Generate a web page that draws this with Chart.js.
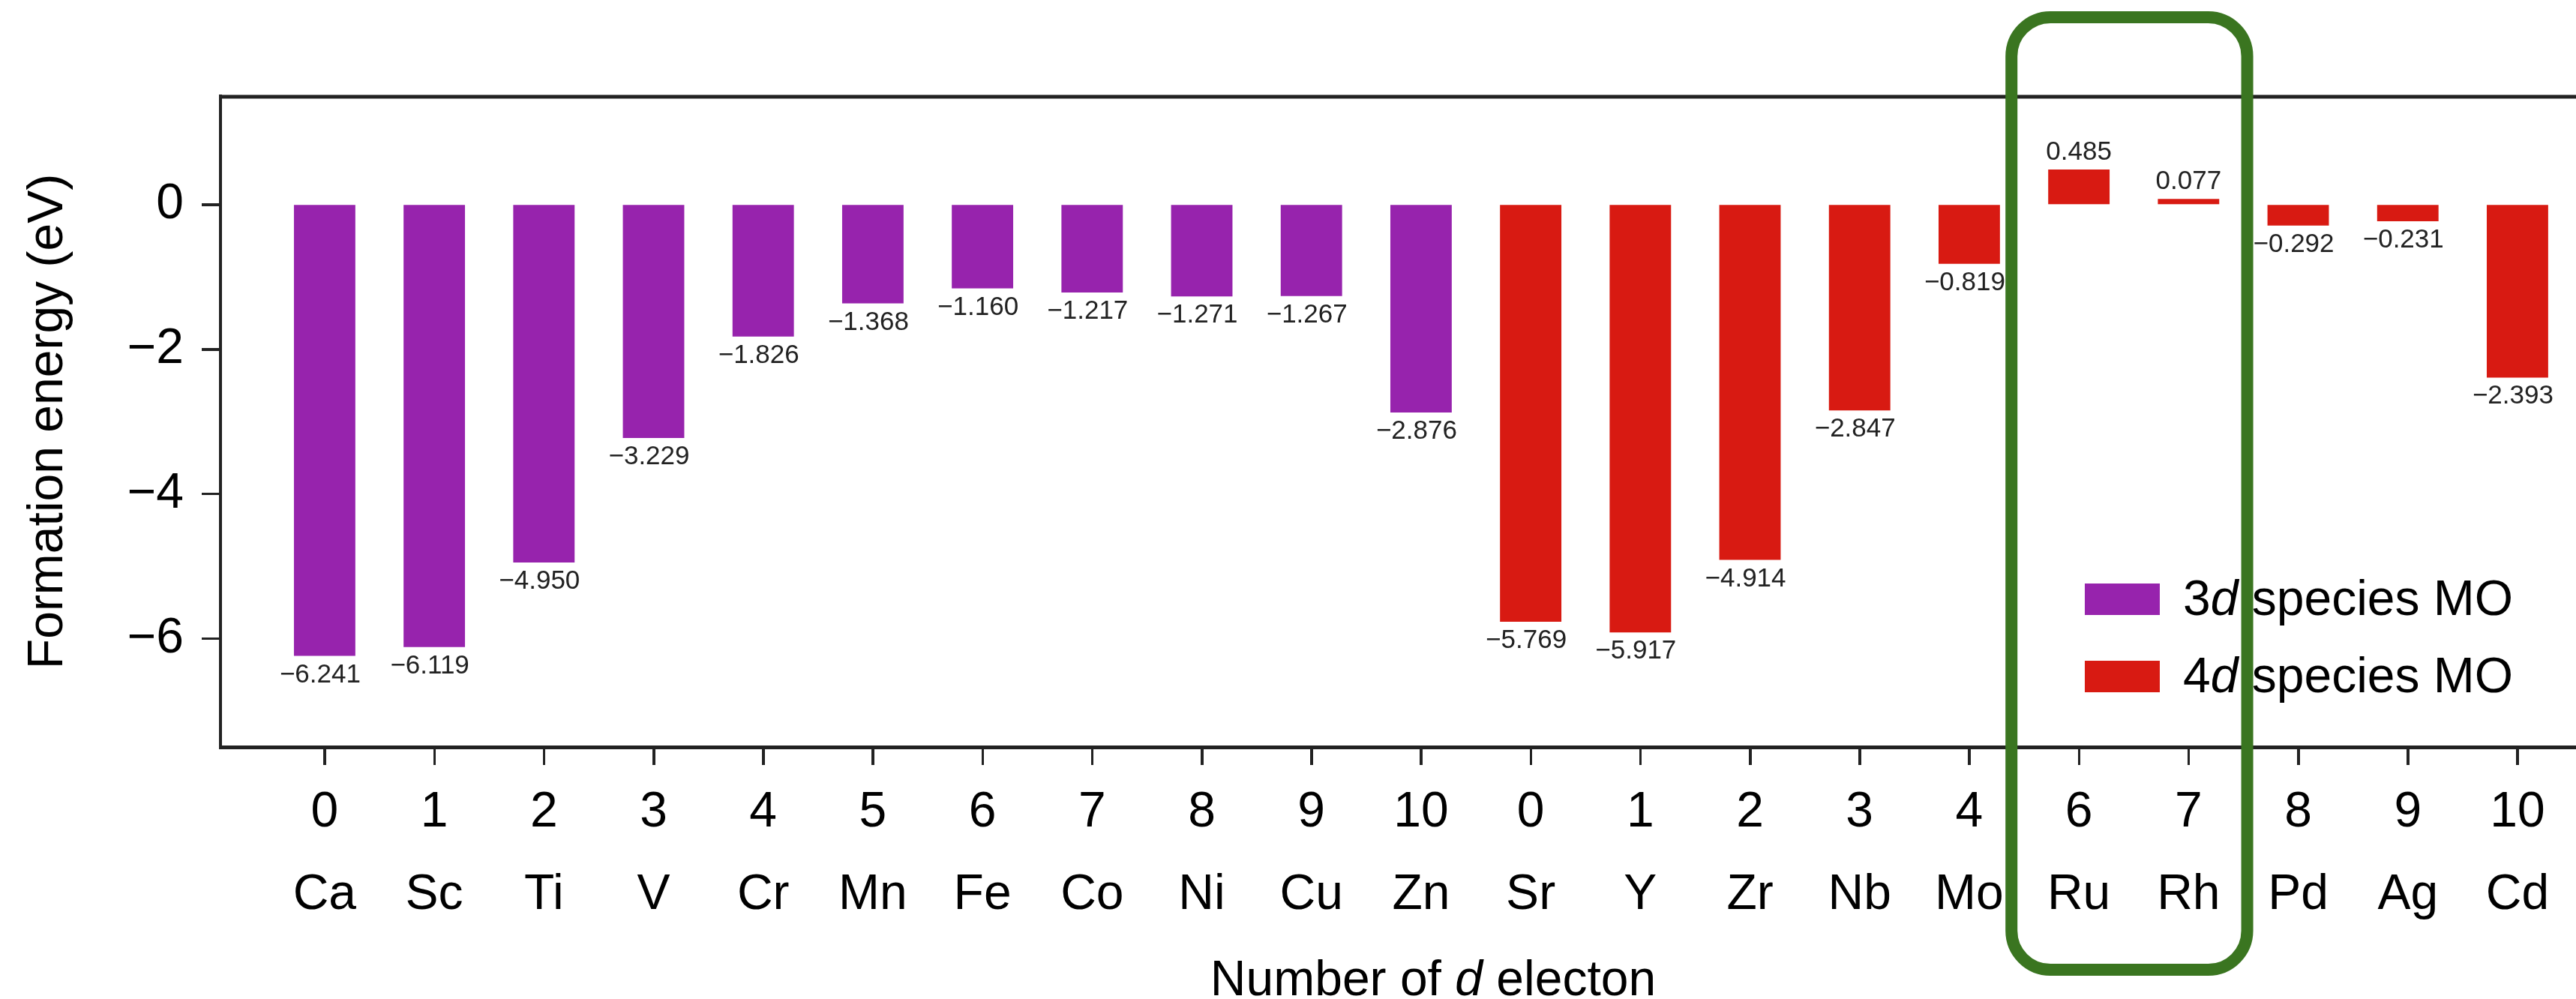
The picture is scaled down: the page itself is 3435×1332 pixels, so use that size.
<!DOCTYPE html>
<html><head><meta charset="utf-8">
<script src="https://cdn.jsdelivr.net/npm/chart.js@4"></script>
<style>
html,body{margin:0;padding:0;background:#fff;overflow:hidden;}
#wrap{width:3435px;height:1332px;overflow:hidden;position:relative;background:#fff;}
canvas{display:block;}
</style></head><body>
<div id="wrap"><canvas id="c" width="3530" height="1332"></canvas></div>
<script>
// ---- data ----
const elements3d = ['Ca','Sc','Ti','V','Cr','Mn','Fe','Co','Ni','Cu','Zn'];
const dElectrons3d = ['0','1','2','3','4','5','6','7','8','9','10'];
const values3d = [-6.241,-6.119,-4.950,-3.229,-1.826,-1.368,-1.160,-1.217,-1.271,-1.267,-2.876];
const elements4d = ['Sr','Y','Zr','Nb','Mo','Ru','Rh','Pd','Ag','Cd'];
const dElectrons4d = ['0','1','2','3','4','6','7','8','9','10'];
const values4d = [-5.769,-5.917,-4.914,-2.847,-0.819,0.485,0.077,-0.292,-0.231,-2.393];
const yTickValues = [-6,-4,-2,0];
const seriesNames = [['3','d',' species MO'],['4','d',' species MO']];
const xTitleParts = ['Number of ','d',' electon'];
const yTitle = 'Formation energy (eV)';
const highlighted = ['Ru','Rh'];

const categories = elements3d.concat(elements4d);
const electronLabels = dElectrons3d.concat(dElectrons4d);

const PURPLE = '#9723ad';
const RED = '#d81a12';
const GREEN = '#3a7520';
const AXIS = '#222222';
const FONT = '"Liberation Sans", Arial, Helvetica, sans-serif';

const valueLabels = {
  id:'valueLabels',
  afterDatasetsDraw(chart){
    const ctx = chart.ctx;
    ctx.save();
    ctx.font = '35px ' + FONT;
    ctx.fillStyle = '#222';
    ctx.textAlign = 'center';
    ctx.textBaseline = 'alphabetic';
    chart.data.datasets.forEach((ds, di) => {
      const meta = chart.getDatasetMeta(di);
      meta.data.forEach((bar, i) => {
        const v = ds.data[i].y;
        const txt = (v < 0 ? '\u2212' : '') + Math.abs(v).toFixed(3);
        if (v < 0) ctx.fillText(txt, bar.x - 6, bar.y + 35);
        else ctx.fillText(txt, bar.x, bar.y - 13);
      });
    });
    ctx.restore();
  }
};

const frameAndDecor = {
  id:'frameAndDecor',
  afterDraw(chart){
    const ctx = chart.ctx;
    const ca = chart.chartArea;
    const xs = chart.scales.x, ys = chart.scales.y;
    ctx.save();
    // top frame line
    ctx.strokeStyle = AXIS; ctx.lineWidth = 5;
    ctx.beginPath(); ctx.moveTo(ca.left - 2, ca.top + 1); ctx.lineTo(ca.right, ca.top + 1); ctx.stroke();

    // outward tick marks at every category and every y tick
    ctx.lineWidth = 3; ctx.strokeStyle = AXIS;
    ctx.beginPath();
    categories.forEach((c, i) => {
      const px = Math.round(xs.getPixelForValue(i)) + 0.5;
      ctx.moveTo(px, ca.bottom); ctx.lineTo(px, ca.bottom + 24);
    });
    yTickValues.forEach(v => {
      const py = Math.round(ys.getPixelForValue(v)) + 0.5;
      ctx.moveTo(ca.left, py); ctx.lineTo(ca.left - 25, py);
    });
    ctx.stroke();

    // legend
    const lx = ca.right - 748, ly = ca.bottom - 218;
    const colors = [PURPLE, RED];
    seriesNames.forEach((parts, k) => {
      const top = ly + k * 103;
      ctx.fillStyle = colors[k];
      ctx.fillRect(lx, top, 100, 42);
      ctx.fillStyle = '#000';
      ctx.textBaseline = 'alphabetic';
      ctx.textAlign = 'left';
      let x = lx + 131;
      parts.forEach((p, j) => {
        ctx.font = (j === 1 ? 'italic ' : '') + '66px ' + FONT;
        ctx.fillText(p, x, top + 42);
        x += ctx.measureText(p).width;
      });
    });

    // x axis title with italic d
    let total = 0;
    xTitleParts.forEach((p, j) => { ctx.font = (j === 1 ? 'italic ' : '') + '66px ' + FONT; total += ctx.measureText(p).width; });
    let tx = (ca.left + ca.right) / 2 - total / 2;
    ctx.fillStyle = '#000';
    ctx.textAlign = 'left';
    xTitleParts.forEach((p, j) => {
      ctx.font = (j === 1 ? 'italic ' : '') + '66px ' + FONT;
      ctx.fillText(p, tx, ca.bottom + 331);
      tx += ctx.measureText(p).width;
    });

    // highlight box around Ru, Rh
    const i0 = categories.indexOf(highlighted[0]);
    const i1 = categories.indexOf(highlighted[1]);
    const x0 = xs.getPixelForValue(i0 - 0.615);
    const x1 = xs.getPixelForValue(i1 + 0.535);
    const y0 = ys.getPixelForValue(2.59);
    const y1 = ys.getPixelForValue(-10.58);
    ctx.strokeStyle = GREEN; ctx.lineWidth = 16;
    ctx.beginPath(); ctx.roundRect(x0, y0, x1 - x0, y1 - y0, 52); ctx.stroke();
    ctx.restore();
  }
};

new Chart(document.getElementById('c'), {
  type:'bar',
  data:{
    datasets:[
      {label:'3d species MO', data: values3d.map((v,i)=>({x:i, y:v})), backgroundColor:PURPLE,
       grouped:false, barPercentage:0.56, categoryPercentage:1},
      {label:'4d species MO', data: values4d.map((v,i)=>({x:i + elements3d.length, y:v})), backgroundColor:RED,
       grouped:false, barPercentage:0.56, categoryPercentage:1}
    ]
  },
  options:{
    responsive:false,
    animation:false,
    layout:{padding:{top:128, right:2, left:0, bottom:0}},
    plugins:{legend:{display:false}, tooltip:{enabled:false}},
    scales:{
      x:{
        type:'linear', min:-0.95, max:21.17, offset:false,
        afterBuildTicks: s => { s.ticks = categories.map((c,i)=>({value:i})); },
        afterFit: s => { s.height = 336; },
        grid:{display:true, offset:false, drawOnChartArea:false, drawTicks:true, tickLength:24, tickWidth:3, tickColor:AXIS},
        border:{display:true, color:AXIS, width:5},
        ticks:{autoSkip:false, maxRotation:0, minRotation:0, padding:9, color:'#000',
               font:{family:FONT, size:66, lineHeight:1.667},
               callback:(v)=>[electronLabels[v], categories[v]]}
      },
      y:{
        min:-7.5, max:1.5,
        afterBuildTicks: s => { s.ticks = yTickValues.map(v=>({value:v})); },
        afterFit: s => { s.width = 294; },
        grid:{display:true, offset:false, drawOnChartArea:false, drawTicks:true, tickLength:25, tickWidth:3, tickColor:AXIS},
        border:{display:true, color:AXIS, width:4},
        ticks:{padding:24, color:'#000', font:{family:FONT, size:66},
               callback:(v)=> v < 0 ? '\u2212' + Math.abs(v) : String(v)},
        title:{display:true, text:yTitle, color:'#000', font:{family:FONT, size:66, lineHeight:1.2}, padding:{top:25, bottom:0}}
      }
    }
  },
  plugins:[valueLabels, frameAndDecor]
});
</script>
</body></html>
